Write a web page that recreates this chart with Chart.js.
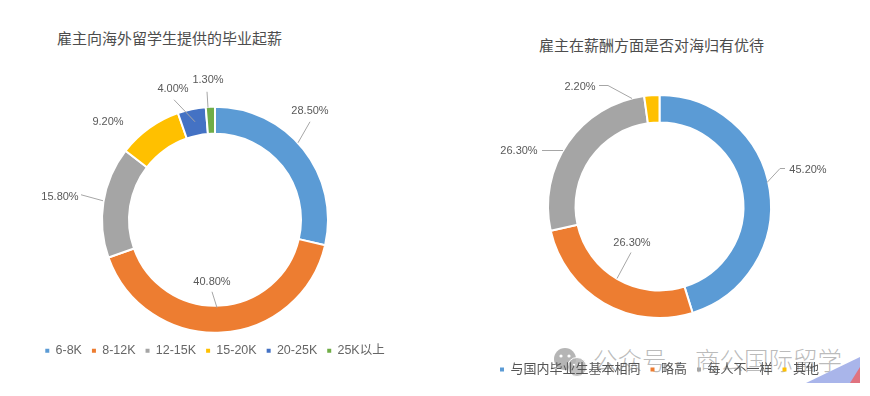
<!DOCTYPE html>
<html lang="zh">
<head>
<meta charset="utf-8">
<title>雇主调查</title>
<script src="https://cdn.jsdelivr.net/npm/chart.js@4"></script>
<style>
  html, body { margin: 0; background: #fff; }
  #page { position: relative; width: 870px; height: 396px; overflow: hidden; background: #fff; }
  canvas { position: absolute; top: 0; z-index: 2; }
  #salaryChart { left: 0; }
  #payChart { left: 449px; }
  .chart-title {
    position: absolute; font: 15px/20px "Noto Sans CJK SC", sans-serif; color: #4d4d4d; white-space: nowrap;
  }
  #salaryTitle { left: 57px; top: 28px; }
  #payTitle { left: 539px; top: 35px; }
  .wm {
    position: absolute; top: 344px; font: 300 24.5px/32px "Noto Sans CJK SC", sans-serif;
    color: rgba(120,120,120,0.5); white-space: nowrap;
  }
  #wmIcon { position: absolute; left: 552px; top: 347px; }
  #corner { position: absolute; left: 800px; top: 355px; }
</style>
</head>
<body>
<div id="page">
  <canvas id="salaryChart" width="430" height="396"></canvas>
  <canvas id="payChart" width="421" height="396"></canvas>
  <div class="chart-title" id="salaryTitle">雇主向海外留学生提供的毕业起薪</div>
  <div class="chart-title" id="payTitle">雇主在薪酬方面是否对海归有优待</div>

  <!-- watermark from the screenshot, the right legend reads through it -->
  <svg id="wmIcon" width="38" height="30" viewBox="0 0 38 30">
    <circle cx="13" cy="12" r="11" fill="#a8a8a8" fill-opacity="0.85"/>
    <circle cx="25" cy="20" r="9.5" fill="#b4b4b4" fill-opacity="0.85" stroke="#fff" stroke-width="1"/>
    <circle cx="9" cy="9" r="1.6" fill="#fff"/>
    <circle cx="17" cy="9" r="1.6" fill="#fff"/>
    <circle cx="22" cy="18" r="1.2" fill="#fff"/>
    <circle cx="28" cy="18" r="1.2" fill="#fff"/>
  </svg>
  <div class="wm" style="left:593px">公众号</div>
  <div class="wm" style="left:666px;top:348px">·</div>
  <div class="wm" style="left:695px">商公国际留学</div>
  <svg id="corner" width="62" height="30" viewBox="0 0 62 30">
    <polygon points="6,28 60,2 60,28" fill="#a9b5ea"/>
    <polygon points="50,28 60,12 60,28" fill="#e0727f"/>
  </svg>
</div>

<script>
const salaryLabels = ['6-8K', '8-12K', '12-15K', '15-20K', '20-25K', '25K以上'];
const salaryValues = [28.5, 40.8, 15.8, 9.2, 4.0, 1.3];
const salaryColors = ['#5B9BD5', '#ED7D31', '#A5A5A5', '#FFC000', '#4472C4', '#70AD47'];

const payLabels = ['与国内毕业生基本相同', '略高', '每人不一样', '其他'];
const payValues = [45.2, 26.3, 26.3, 2.2];
const payColors = ['#5B9BD5', '#ED7D31', '#A5A5A5', '#FFC000'];

// label centres and leader lines, relative to the ring centre (hand placed, as in the source)
const salaryLabelAt = [[95, -109], [-3, 62], [-155, -23], [-107, -98], [-42, -131], [-7, -140]];
const salaryLeaders = [
  [[95, -98], [83, -77]],
  [[-3, 72], [2, 88]],
  [[-134, -25], [-112, -19]],
  null,
  [[-41, -120], [-20, -98]],
  [[-8, -128], [-7, -112]],
];
const payLabelAt = [[148.5, -37], [-27.5, 36], [-140.5, -56], [-79.5, -120]];
const payLeaders = [
  [[125.5, -38], [120.5, -38], [107.5, -24]],
  [[-28.5, 46], [-42.5, 72]],
  [[-117.5, -56], [-96.5, -56]],
  [[-60.5, -121], [-51.5, -121], [-27.5, -108]],
];

const ringLabels = {
  id: 'ringLabels',
  afterDatasetsDraw(chart, args, opts) {
    const { ctx } = chart;
    const arcs = chart.getDatasetMeta(0).data;
    const cx = arcs[0].x;
    const cy = arcs[0].y;
    ctx.save();
    ctx.strokeStyle = '#a6a6a6';
    ctx.lineWidth = 1;
    opts.leaders.forEach((path) => {
      if (!path) return;
      ctx.beginPath();
      path.forEach(([dx, dy], i) => (i ? ctx.lineTo(cx + dx, cy + dy) : ctx.moveTo(cx + dx, cy + dy)));
      ctx.stroke();
    });
    ctx.font = '11px "Liberation Sans", sans-serif';
    ctx.fillStyle = '#595959';
    ctx.textAlign = 'center';
    ctx.textBaseline = 'middle';
    chart.data.datasets[0].data.forEach((v, i) => {
      const [dx, dy] = opts.labelAt[i];
      ctx.fillText(v.toFixed(2) + '%', cx + dx, cy + dy);
    });
    ctx.restore();
  },
};

// the default doughnut legend copies the white slice border onto the tiny boxes
function legendItems(chart) {
  return Chart.controllers.doughnut.overrides.plugins.legend.labels
    .generateLabels(chart)
    .map((item) => ({ ...item, lineWidth: 0, strokeStyle: 'transparent' }));
}

function renderRing(canvasId, labels, values, colors, ring) {
  return new Chart(document.getElementById(canvasId), {
    type: 'doughnut',
    data: {
      labels,
      datasets: [{
        data: values,
        backgroundColor: colors,
        borderColor: '#fff',
        borderWidth: 2,
        radius: ring.radius,
        cutout: ring.cutout,
      }],
    },
    options: {
      responsive: false,
      animation: false,
      layout: { padding: ring.padding },
      plugins: {
        legend: {
          position: 'bottom',
          labels: {
            boxWidth: 4,
            boxHeight: 4,
            padding: 10,
            color: ring.legendColor,
            font: { family: '"Liberation Sans", "Noto Sans CJK SC", sans-serif', size: ring.legendSize },
            generateLabels: legendItems,
          },
        },
        tooltip: { enabled: false },
        ringLabels: { labelAt: ring.labelAt, leaders: ring.leaders },
      },
    },
    plugins: [ringLabels],
  });
}

renderRing('salaryChart', salaryLabels, salaryValues, salaryColors, {
  radius: 113, cutout: '76.1%', legendSize: 12.5, legendColor: '#666',
  padding: { top: 105, bottom: 29 },
  labelAt: salaryLabelAt, leaders: salaryLeaders,
});
renderRing('payChart', payLabels, payValues, payColors, {
  radius: 111.5, cutout: '75.3%', legendSize: 13, legendColor: '#555',
  padding: { top: 60, bottom: 10 },
  labelAt: payLabelAt, leaders: payLeaders,
});
</script>
</body>
</html>
